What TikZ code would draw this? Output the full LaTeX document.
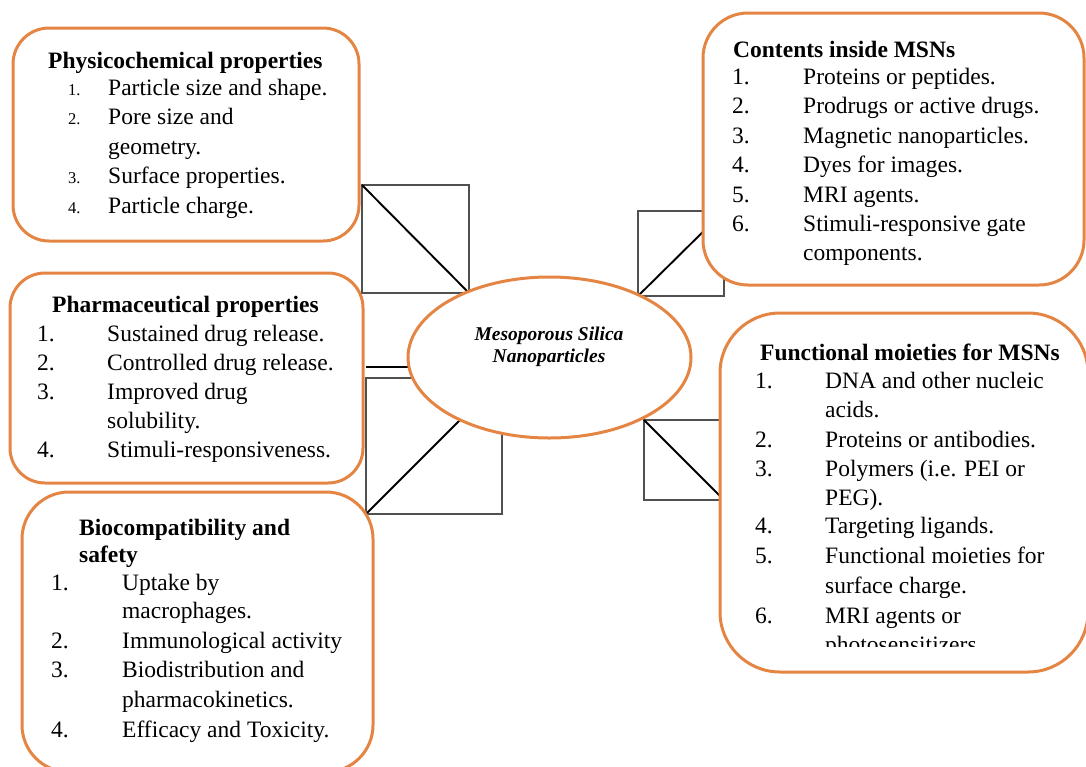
\documentclass[tikz,border=0pt]{standalone}
\usepackage{fontspec}
\setmainfont{Liberation Serif}
\usetikzlibrary{shapes.geometric}
\definecolor{boxorange}{RGB}{229,133,68}
\definecolor{sqgray}{RGB}{80,80,80}
\begin{document}
\begin{tikzpicture}[x=1pt,y=-1pt,
  box/.style={draw=boxorange, line width=3pt, fill=white, inner sep=0pt, outer sep=0pt, anchor=north west},
  sq/.style={draw=sqgray, line width=1.2pt},
  diag/.style={draw=black, line width=1.9pt},
  txt/.style={inner sep=0pt, anchor=base west, font=\fontsize{23.5}{28}\selectfont},
  hd/.style={inner sep=0pt, anchor=base west, font=\fontsize{23.5}{28}\selectfont\bfseries},
  sm/.style={inner sep=0pt, anchor=base west, font=\fontsize{16.5}{20}\selectfont},
  ctr/.style={inner sep=0pt, anchor=base, font=\fontsize{19.5}{22}\selectfont\bfseries\itshape},
]
\useasboundingbox (0,0) rectangle (1086,766);
\clip (0,0) rectangle (1086,766);

% square connectors
\draw[sq] (362,185) rectangle (469,293);
\draw[diag] (362,185) -- (469,293);
\draw[sq] (638,211) rectangle (724,296);
\draw[diag] (638,296) -- (724,211);
\draw[diag] (366,367) -- (430,367);
\draw[sq] (366,378) rectangle (502,514);
\draw[diag] (366,514) -- (502,378);
\draw[sq] (644,420) rectangle (724,500);
\draw[diag] (644,420) -- (724,500);

% boxes
\node[box, minimum width=346pt, minimum height=213pt, rounded corners=36pt] (phys) at (13,28) {};
\node[box, minimum width=353pt, minimum height=210pt, rounded corners=35pt] (pharm) at (10,273) {};
\node[box, minimum width=351pt, minimum height=280pt, rounded corners=47pt] (bio) at (22,492) {};
\node[box, minimum width=381pt, minimum height=272pt, rounded corners=45pt] (cont) at (703,13) {};
\node[box, minimum width=368pt, minimum height=359pt, rounded corners=60pt] (func) at (720,313) {};

% centre
\node[ellipse, draw=boxorange, line width=3pt, fill=white, minimum width=283pt, minimum height=161pt, inner sep=0pt] (msn) at (549.5,357.5) {};
\node[ctr] (msnA) at (549,340) {Mesoporous Silica};
\node[ctr] (msnB) at (549,362) {Nanoparticles};

% Physicochemical
\node[hd] (ph) at (48,68) {Physicochemical properties};
\node[sm] (pn1) at (68,95) {1.};
\node[txt] (pt1) at (108,95) {Particle size and shape.};
\node[sm] (pn2) at (68,124.5) {2.};
\node[txt] (pt2) at (108,124.5) {Pore size and};
\node[txt] (pt2b) at (108,154) {geometry.};
\node[sm] (pn3) at (68,183.5) {3.};
\node[txt] (pt3) at (108,183.5) {Surface properties.};
\node[sm] (pn4) at (68,213) {4.};
\node[txt] (pt4) at (108,213) {Particle charge.};

% Pharmaceutical
\node[hd] (qh) at (52,312) {Pharmaceutical properties};
\node[txt] (qn1) at (37,341) {1.};
\node[txt] (qt1) at (107,341) {Sustained drug release.};
\node[txt] (qn2) at (37,370) {2.};
\node[txt] (qt2) at (107,370) {Controlled drug release.};
\node[txt] (qn3) at (37,399) {3.};
\node[txt] (qt3) at (107,399) {Improved drug};
\node[txt] (qt3b) at (107,428) {solubility.};
\node[txt] (qn4) at (37,457) {4.};
\node[txt] (qt4) at (107,457) {Stimuli-responsiveness.};

% Biocompatibility
\node[hd] (bh) at (79,535) {Biocompatibility and};
\node[hd] (bh2) at (79,562) {safety};
\node[txt] (bn1) at (51,590) {1.};
\node[txt] (bt1) at (122,590) {Uptake by};
\node[txt] (bt1b) at (122,618) {macrophages.};
\node[txt] (bn2) at (51,648) {2.};
\node[txt] (bt2) at (122,648) {Immunological activity};
\node[txt] (bn3) at (51,677) {3.};
\node[txt] (bt3) at (122,677) {Biodistribution and};
\node[txt] (bt3b) at (122,707) {pharmacokinetics.};
\node[txt] (bn4) at (51,737) {4.};
\node[txt] (bt4) at (122,737) {Efficacy and Toxicity.};

% Contents
\node[hd] (ch) at (733,57) {Contents inside MSNs};
\node[txt] (cn1) at (732,84) {1.};
\node[txt] (ct1) at (803,84) {Proteins or peptides.};
\node[txt] (cn2) at (732,113) {2.};
\node[txt] (ct2) at (803,113) {Prodrugs or active drugs.};
\node[txt] (cn3) at (732,143) {3.};
\node[txt] (ct3) at (803,143) {Magnetic nanoparticles.};
\node[txt] (cn4) at (732,172) {4.};
\node[txt] (ct4) at (803,172) {Dyes for images.};
\node[txt] (cn5) at (732,202) {5.};
\node[txt] (ct5) at (803,202) {MRI agents.};
\node[txt] (cn6) at (732,231) {6.};
\node[txt] (ct6) at (803,231) {Stimuli-responsive gate};
\node[txt] (ct6b) at (803,260) {components.};

% Functional
\node[hd] (fh) at (760,360) {Functional moieties for MSNs};
\node[txt] (fn1) at (755,388) {1.};
\node[txt] (ft1) at (825,388) {DNA and other nucleic};
\node[txt] (ft1b) at (825,417) {acids.};
\node[txt] (fn2) at (755,447) {2.};
\node[txt] (ft2) at (825,447) {Proteins or antibodies.};
\node[txt] (fn3) at (755,476) {3.};
\node[txt] (ft3) at (825,476) {Polymers (i.e. PEI or};
\node[txt] (ft3b) at (825,505) {PEG).};
\node[txt] (fn4) at (755,533) {4.};
\node[txt] (ft4) at (825,533) {Targeting ligands.};
\node[txt] (fn5) at (755,563) {5.};
\node[txt] (ft5) at (825,563) {Functional moieties for};
\node[txt] (ft5b) at (825,593) {surface charge.};
\node[txt] (fn6) at (755,623) {6.};
\node[txt] (ft6) at (825,623) {MRI agents or};
\begin{scope}
\clip (720,600) rectangle (1086,646);
\node[txt] (ft6b) at (825,652) {photosensitizers};
\end{scope}
\end{tikzpicture}
\end{document}
